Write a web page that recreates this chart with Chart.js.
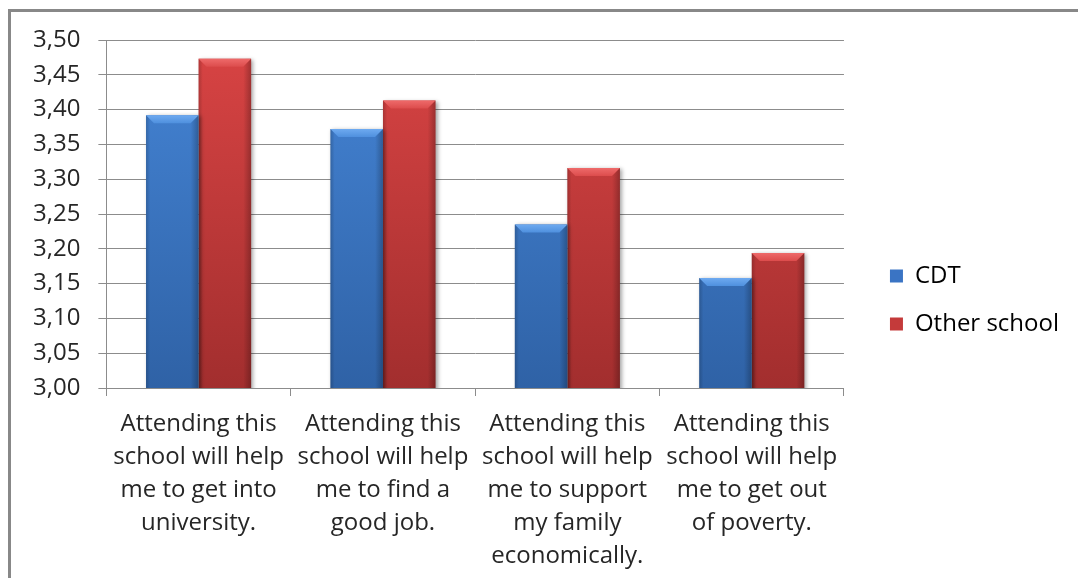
<!DOCTYPE html>
<html>
<head>
<meta charset="utf-8">
<script src="https://cdn.jsdelivr.net/npm/chart.js@4"></script>
<style>
  body { margin: 0; background: #fff; overflow: hidden; }
  #frame {
    position: absolute; left: 8px; top: 9px; width: 1100px; height: 600px;
    border-left: 3px solid #888; border-top: 3px solid #888;
  }
  #chart { position: absolute; left: 0; top: 0; }
</style>
</head>
<body>
<div id="frame"></div>
<canvas id="chart" width="1078" height="578"></canvas>
<script>
const categories = [
  ['Attending this', 'school will help', 'me to get into', 'university.'],
  ['Attending this', 'school will help', 'me to find a', 'good job.'],
  ['Attending this', 'school will help', 'me to support', 'my family', 'economically.'],
  ['Attending this', 'school will help', 'me to get out', 'of poverty.']
];
const seriesNames = ['CDT', 'Other school'];
const cdtValues = [3.392, 3.372, 3.235, 3.158];
const otherValues = [3.473, 3.413, 3.316, 3.194];
const yMin = 3.00, yMax = 3.50, yStep = 0.05;

const FONT = '"Open Sans", sans-serif';
const TEXT = '#262626';

// vertical fill across the plot area, lighter at the top
function barFill(top, bottom) {
  return ctx => {
    const { chart } = ctx;
    const area = chart.chartArea;
    if (!area) return bottom;
    const g = chart.ctx.createLinearGradient(0, area.top, 0, area.bottom);
    g.addColorStop(0, top);
    g.addColorStop(1, bottom);
    return g;
  };
}

// drop shadow, top bevel and shaded sides on each bar
const bevelPlugin = {
  id: 'bevel',
  beforeDatasetDraw(chart) {
    const c = chart.ctx;
    c.save();
    c.shadowColor = 'rgba(0,0,0,0.35)';
    c.shadowBlur = 4;
    c.shadowOffsetX = 2;
    c.shadowOffsetY = 1;
  },
  afterDatasetDraw(chart, args) {
    const c = chart.ctx;
    c.restore();
    const ds = chart.data.datasets[args.index];
    const area = chart.chartArea;
    c.save();
    c.beginPath();
    c.rect(area.left, area.top, area.right - area.left, area.bottom - area.top);
    c.clip();
    args.meta.data.forEach(bar => {
      const { x, y, width } = bar.getProps(['x', 'y', 'width'], true);
      const l = x - width / 2, r = x + width / 2, b = 8;
      // darker edges
      const side = c.createLinearGradient(l, 0, r, 0);
      side.addColorStop(0, 'rgba(0,0,0,0.18)');
      side.addColorStop(0.08, 'rgba(0,0,0,0)');
      side.addColorStop(0.85, 'rgba(0,0,0,0)');
      side.addColorStop(1, 'rgba(0,0,0,0.25)');
      c.fillStyle = side;
      c.fillRect(l, y, width, area.bottom - y);
      // light top bevel
      const top = c.createLinearGradient(0, y, 0, y + b);
      top.addColorStop(0, ds.bevelLight);
      top.addColorStop(1, ds.bevelMid);
      c.fillStyle = top;
      c.beginPath();
      c.moveTo(l, y);
      c.lineTo(r, y);
      c.lineTo(r - b, y + b);
      c.lineTo(l + b, y + b);
      c.closePath();
      c.fill();
    });
    c.restore();
  }
};

function drawChart() {
  new Chart(document.getElementById('chart'), {
    type: 'bar',
    data: {
      labels: categories,
      datasets: [
        {
          label: seriesNames[0],
          data: cdtValues,
          backgroundColor: barFill('#4585d6', '#2f62a6'),
          legendColor: '#3a74c4',
          bevelLight: '#6eaaf0',
          bevelMid: '#4f90de',
          borderWidth: 0
        },
        {
          label: seriesNames[1],
          data: otherValues,
          backgroundColor: barFill('#d94444', '#a22e2e'),
          legendColor: '#c43a3a',
          bevelLight: '#ee6a6a',
          bevelMid: '#dc4c4c',
          borderWidth: 0
        }
      ]
    },
    options: {
      responsive: false,
      animation: false,
      layout: { padding: { top: 26, right: 9, bottom: 4, left: 15 } },
      datasets: {
        bar: { categoryPercentage: 0.57, barPercentage: 1.0 }
      },
      plugins: {
        tooltip: { enabled: false },
        legend: {
          position: 'right',
          align: 'center',
          maxWidth: 300,
          labels: {
            color: TEXT,
            font: { family: FONT, size: 24 },
            boxWidth: 13,
            boxHeight: 13,
            padding: 24,
            generateLabels(chart) {
              return chart.data.datasets.map((ds, i) => ({
                text: ds.label,
                fillStyle: ds.legendColor,
                strokeStyle: ds.legendColor,
                lineWidth: 0,
                datasetIndex: i
              }));
            }
          }
        }
      },
      scales: {
        x: {
          grid: {
            offset: true,
            drawOnChartArea: false,
            drawTicks: true,
            tickLength: 8,
            color: '#8c8c8c'
          },
          border: { color: '#8c8c8c' },
          ticks: {
            color: TEXT,
            maxRotation: 0,
            autoSkip: false,
            padding: 12,
            font: { family: FONT, size: 24, lineHeight: 1.375 }
          },
          // trim the spare room Chart.js leaves under the last label line
          afterFit(scale) { scale.height -= 11; }
        },
        y: {
          min: yMin,
          max: yMax,
          grid: { color: '#8c8c8c', tickLength: 8 },
          border: { color: '#8c8c8c' },
          ticks: {
            stepSize: yStep,
            padding: 18,
            color: TEXT,
            font: { family: FONT, size: 24 },
            callback: v => v.toFixed(2).replace('.', ',')
          },
          // keep the plot top lower than the outer padding
          afterFit(scale) { scale.paddingTop = 40; }
        },
        gap: {
          position: 'right',
          display: true,
          grid: { display: false },
          border: { display: false },
          ticks: { display: false },
          afterFit(scale) { scale.width = 22; }
        }
      }
    },
    plugins: [bevelPlugin]
  });
}

// measure labels with the real font, not the fallback
document.fonts.load('24px "Open Sans"').then(drawChart, drawChart);
</script>
</body>
</html>
